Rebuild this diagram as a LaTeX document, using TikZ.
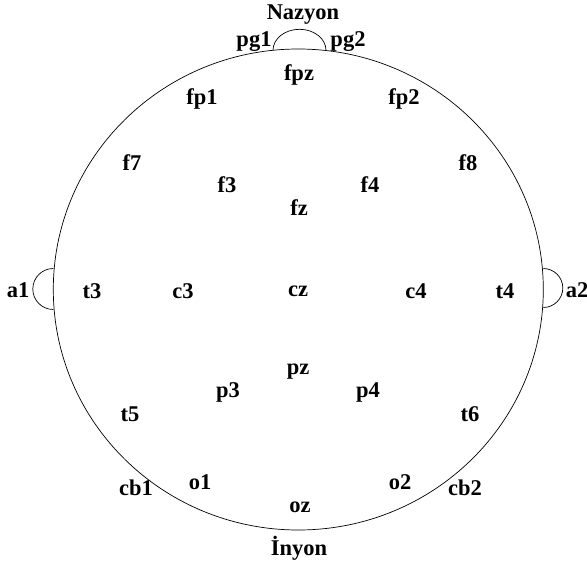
\documentclass[tikz,border=0pt]{standalone}
\usepackage{fontspec}
\setmainfont{Liberation Serif}
\begin{document}
\begin{tikzpicture}[x=1pt,y=-1pt,line width=0.7pt,
    electrode/.style={font=\fontsize{22.5}{22.5}\selectfont\bfseries,inner sep=0pt}]
            \useasboundingbox (0,0) rectangle (587,562);
            % head
            \coordinate (head) at (298.3,289.5);
            \draw (head) ellipse [x radius=245pt, y radius=240.5pt];
            % nose and ears
            \draw (273,50.3) arc [start angle=180, end angle=0, x radius=26.5pt, y radius=21pt];
            \draw (53.3,268.5) arc [start angle=90, end angle=270, radius=20.5pt];
            \draw (543.3,268.5) arc [start angle=90, end angle=-90, radius=19.5pt];
            \foreach \name/\x/\y in {Nazyon/303/15,pg1/254/42,pg2/348/42,fpz/299/75,
                fp1/202/99,fp2/404/99,f7/132/163,f8/468/163,f3/227/185,f4/370/185,fz/299/208,
                a1/18/290,t3/92/291,c3/183/291,cz/298/291,c4/416/291,t4/505/291,a2/577/290,
                pz/298/372,p3/228/392,p4/368/392,t5/130/414,t6/470/414,
                o1/200/482,o2/400/482,cb1/136/488,cb2/465/488,oz/300/507} {
                \node[electrode] (n\name) at (\x,\y) {\name};
            }
            \node[electrode] (nInyon) at (299,548) {İnyon};
        \end{tikzpicture}
\end{document}
